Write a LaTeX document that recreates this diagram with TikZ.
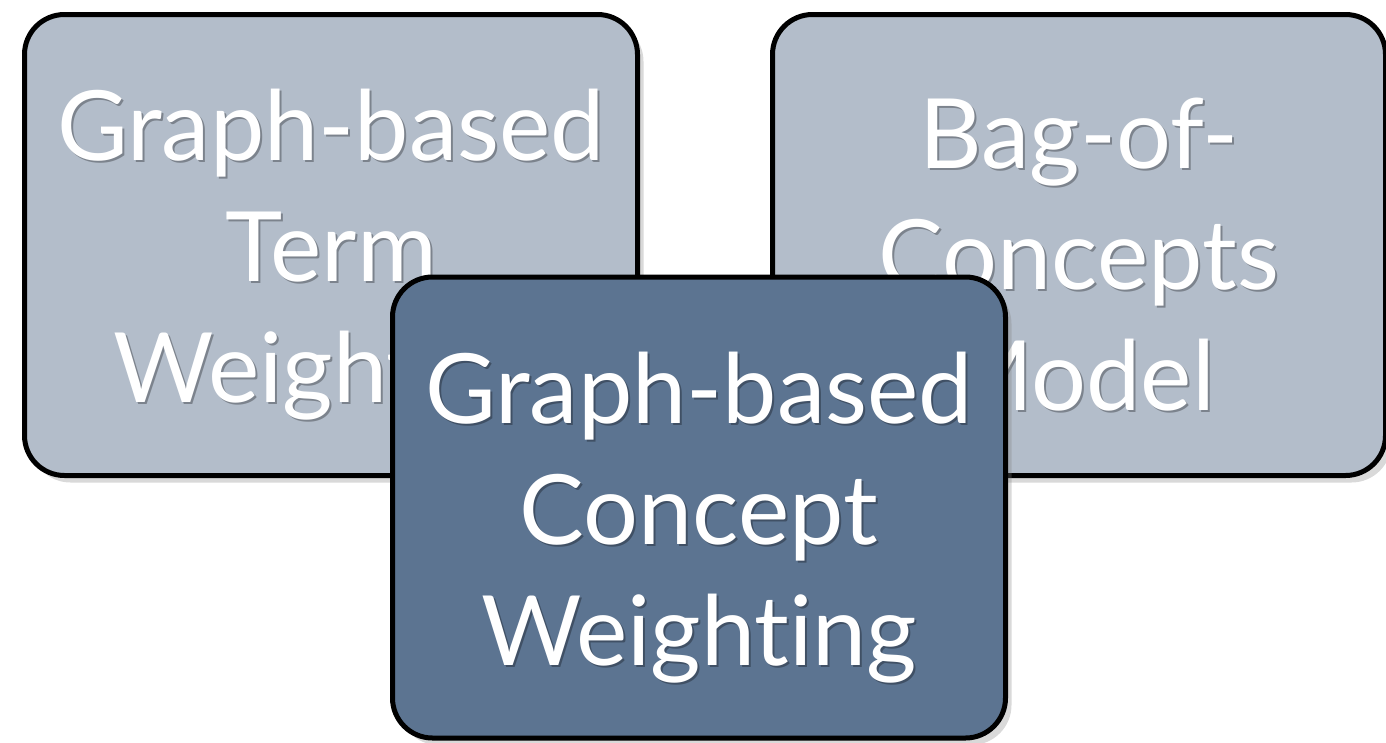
\documentclass[tikz,border=0pt]{standalone}
\usepackage{fontspec}
\setmainfont{Lato}[Ligatures=NoCommon]
\usetikzlibrary{calc,shadows}

\definecolor{paleslate}{HTML}{B3BDCA}
\definecolor{deepslate}{HTML}{5C7491}

\tikzset{
    card/.style={draw=black, line width=5pt, rounded corners=40pt,
        minimum width=613pt, minimum height=461pt,
        drop shadow={opacity=0.3, shadow xshift=6pt, shadow yshift=-7pt}},
    cardtext/.style={text=white, align=center, font=\fontsize{97}{121}\selectfont},
    cardshade/.style={cardtext, text=black, text opacity=0.3}
}

\begin{document}
\begin{tikzpicture}[x=1pt, y=1pt, line join=round]

    % Frame of the whole slide
    \useasboundingbox (0,0) rectangle (1386,-742);

    % Back left card
    \node[card, fill=paleslate] (termcard) at (331,-245) {};
    \node[cardshade] at ($(termcard)+(2,-12)$) {Graph-based\\Term\\Weighting};
    \node[cardtext] (termtext) at ($(termcard)+(0,-10)$) {Graph-based\\Term\\Weighting};

    % Back right card
    \node[card, fill=paleslate] (bagcard) at (1079,-245) {};
    \node[cardshade] at ($(bagcard)+(2,-12)$) {Bag-of-\\Concepts\\Model};
    \node[cardtext] (bagtext) at ($(bagcard)+(0,-10)$) {Bag-of-\\Concepts\\Model};

    % Front card, on top of both
    \node[card, fill=deepslate] (conceptcard) at (699,-507.5) {};
    \node[cardshade] at ($(conceptcard)+(2,-12)$) {Graph-based\\Concept\\Weighting};
    \node[cardtext] (concepttext) at ($(conceptcard)+(0,-10)$) {Graph-based\\Concept\\Weighting};

\end{tikzpicture}
\end{document}
